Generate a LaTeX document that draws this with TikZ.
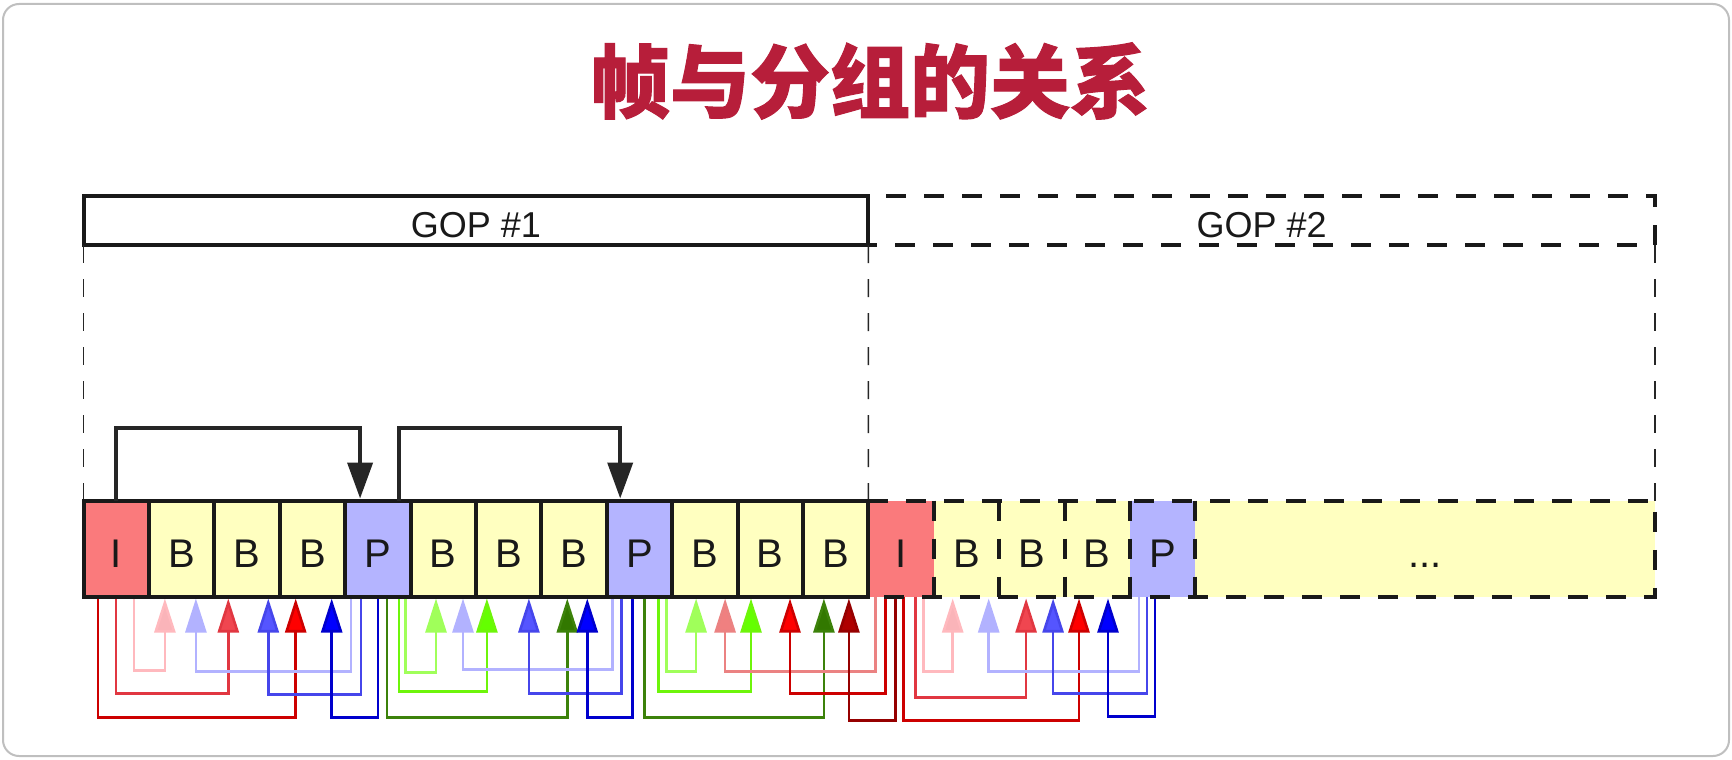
\documentclass[tikz,border=0pt]{standalone}
\usepackage{fontspec}
\setmainfont{Liberation Sans}
\newfontfamily\cjk{Noto Sans CJK SC}[BoldFeatures={FakeBold=1.2}]
\usetikzlibrary{arrows.meta}
\definecolor{titlered}{RGB}{183,30,58}
\definecolor{colI}{RGB}{250,122,124}
\definecolor{colB}{RGB}{255,255,192}
\definecolor{colP}{RGB}{180,180,255}
\definecolor{pinkL}{RGB}{255,185,190}
\definecolor{pinkH}{RGB}{250,180,185}
\definecolor{redmL}{RGB}{225,55,65}
\definecolor{redmH}{RGB}{240,70,80}
\definecolor{redL}{RGB}{205,0,0}
\definecolor{redH}{RGB}{255,0,0}
\definecolor{lavL}{RGB}{178,178,255}
\definecolor{lavH}{RGB}{178,178,255}
\definecolor{bluemL}{RGB}{70,70,235}
\definecolor{bluemH}{RGB}{85,85,255}
\definecolor{blueL}{RGB}{0,0,205}
\definecolor{blueH}{RGB}{0,0,255}
\definecolor{lgrL}{RGB}{160,255,90}
\definecolor{lgrH}{RGB}{160,255,90}
\definecolor{bgrL}{RGB}{110,245,10}
\definecolor{bgrH}{RGB}{100,255,0}
\definecolor{dgrL}{RGB}{60,130,10}
\definecolor{dgrH}{RGB}{50,120,0}
\definecolor{salL}{RGB}{235,130,130}
\definecolor{salH}{RGB}{240,128,128}
\definecolor{dredL}{RGB}{150,0,0}
\definecolor{dredH}{RGB}{175,0,0}
\tikzset{
  frm/.style={inner sep=0, outer sep=0, minimum width=65.4pt, minimum height=96pt,
    font=\fontsize{40}{40}\selectfont, text height=37.5pt, text depth=0pt, text=black!90},
  gopbox/.style={inner sep=0, outer sep=0, minimum height=49pt,
    font=\fontsize{36}{36}\selectfont, text height=34pt, text depth=0pt, text=black!90},
  thickline/.style={line width=4pt, draw=black!90},
  thickdash/.style={line width=4pt, draw=black!90, dash pattern=on 20pt off 18pt},
  thindash/.style={line width=1.5pt, draw=black!85, dash pattern=on 18pt off 16pt},
  bline/.style={line width=2.6pt},
  toparrow/.style={line width=4pt, draw=black!85, -{Triangle[width=25pt,length=36pt]}},
}
\newcommand\bref[7]{\draw[bline, draw=#1, -{Triangle[width=21pt,length=34pt,fill=#2]}]
  ([xshift=#4pt]#3.south west) -- ++(0,#5) -| ([xshift=#7pt,yshift=-2pt]#6.south west);}
\begin{document}
\begin{tikzpicture}[x=1pt,y=-1pt]
\useasboundingbox (0,0) rectangle (1732,760);
\draw[rounded corners=16pt, draw=black!25, line width=2pt, fill=white] (3,4) rectangle (1729,756);
% title
\node[text=titlered, font=\cjk\bfseries\fontsize{80}{80}\selectfont] (title) at (870,81) {帧与分组的关系};
% GOP headers
\node[gopbox, minimum width=786.7pt] (gop2) at (1261.65,220.5) {GOP \#2};
\draw[thickdash] (gop2.north west) rectangle (gop2.south east);
\node[gopbox, minimum width=784.8pt] (gop1) at (475.9,220.5) {GOP \#1};
\draw[thickline] (gop1.north west) rectangle (gop1.south east);
% frames
\foreach \t [count=\i from 0] in {I,B,B,B,P,B,B,B,P,B,B,B,I,B,B,B,P} {
  \node[frm, fill=col\t] (f\i) at ({116.2+65.4*\i},548.5) {\t};
}
\node[frm, fill=colB, minimum width=459.7pt] (dots) at (1425.15,548.5) {...};
% thin dashed guides
\draw[thindash] (gop1.south west) -- (f0.north west);
\draw[thindash] (gop1.south east) -- (f11.north east);
\draw[thindash] (gop2.south east) -- (dots.north east);
% reference arrows below
\bref{pinkL}{pinkH}{f0}{50.5}{74}{f1}{16}
\bref{redmL}{redmH}{f0}{32.5}{97}{f2}{14}
\bref{redL}{redH}{f0}{14.5}{121}{f3}{16}
\bref{lavL}{lavH}{f4}{6}{75}{f1}{47}
\bref{bluemL}{bluemH}{f4}{16}{98}{f2}{54}
\bref{blueL}{blueH}{f4}{33}{121}{f3}{52}
\bref{lgrL}{lgrH}{f4}{60.5}{76}{f5}{25.5}
\bref{bgrL}{bgrH}{f4}{54}{95}{f6}{11}
\bref{dgrL}{dgrH}{f4}{42}{121}{f7}{26}
\bref{lavL}{lavH}{f8}{6}{73}{f5}{52.5}
\bref{bluemL}{bluemH}{f8}{15}{97}{f6}{53}
\bref{blueL}{blueH}{f8}{26}{121}{f7}{46}
\bref{lgrL}{lgrH}{f8}{60}{75}{f9}{24}
\bref{bgrL}{bgrH}{f8}{52}{95}{f10}{13.5}
\bref{dgrL}{dgrH}{f8}{38}{121}{f11}{21}
\bref{salL}{salH}{f12}{7}{75}{f9}{53}
\bref{redL}{redH}{f12}{17}{97}{f10}{52.5}
\bref{dredL}{dredH}{f12}{27}{124}{f11}{46}
\bref{pinkL}{pinkH}{f12}{55}{75}{f13}{19}
\bref{redmL}{redmH}{f12}{47}{101}{f14}{27}
\bref{redL}{redH}{f12}{35}{124}{f15}{14.5}
\bref{lavL}{lavH}{f16}{9}{75}{f13}{55}
\bref{bluemL}{bluemH}{f16}{17}{97}{f14}{54}
\bref{blueL}{blueH}{f16}{25}{120}{f15}{43.5}
% frame borders
\draw[thickdash] (f11.north east) -- (dots.north east) -- (dots.south east) -- (f12.south west);
\foreach \i in {12,...,16} \draw[thickdash] (f\i.north east) -- (f\i.south east);
\draw[thickline] (f0.north west) rectangle (f11.south east);
\foreach \i in {0,...,10} \draw[thickline] (f\i.north east) -- (f\i.south east);
% top arrows
\draw[toparrow] ([xshift=32.5pt]f0.north west) -- ++(0,-73) -| ([xshift=15pt,yshift=2pt]f4.north west);
\draw[toparrow] ([xshift=54pt]f4.north west) -- ++(0,-73) -| ([xshift=13.5pt,yshift=2pt]f8.north west);
\end{tikzpicture}
\end{document}
